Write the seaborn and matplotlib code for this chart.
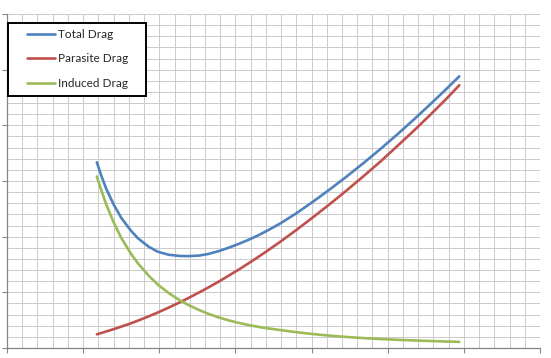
import numpy as np
import pandas as pd
import seaborn as sns
import matplotlib.pyplot as plt
from matplotlib.patches import Rectangle
from matplotlib.ticker import MultipleLocator, NullFormatter

# Airspeed positions (grid units) and drag values
speed = [5.9, 6.2, 6.5, 7.0, 7.5, 8.1, 8.6, 9.3, 9.9, 10.6, 11.3, 11.9, 12.6,
         13.2, 13.9, 14.5, 15.2, 15.9, 16.5, 17.2, 17.9, 19.0, 20.1, 21.2,
         22.3, 23.4, 24.5, 25.6, 26.7, 27.8, 28.9, 29.7]
total_drag = [16.68, 15.45, 14.35, 12.9, 11.7, 10.6, 9.85, 9.1, 8.65, 8.38,
              8.27, 8.25, 8.3, 8.44, 8.7, 8.98, 9.34, 9.74, 10.12, 10.62,
              11.15, 12.1, 13.15, 14.25, 15.4, 16.6, 17.85, 19.15, 20.5,
              21.9, 23.33, 24.4]
parasite_drag = [1.23, 1.35, 1.48, 1.69, 1.92, 2.2, 2.46, 2.84, 3.19, 3.62,
                 4.07, 4.48, 4.98, 5.42, 5.96, 6.45, 7.03, 7.64, 8.18, 8.83,
                 9.5, 10.6, 11.75, 12.93, 14.15, 15.42, 16.72, 18.1, 19.5,
                 20.95, 22.45, 23.6]
induced_drag = [15.4, 14.15, 12.95, 11.3, 9.9, 8.55, 7.6, 6.5, 5.7, 4.95,
                4.33, 3.87, 3.42, 3.08, 2.75, 2.5, 2.26, 2.05, 1.9, 1.75,
                1.62, 1.42, 1.25, 1.11, 0.99, 0.89, 0.81, 0.74, 0.68, 0.63,
                0.58, 0.55]
series_names = ["Total Drag", "Parasite Drag", "Induced Drag"]
colors = ["#4F81BD", "#C0504D", "#9BBB59"]

df = pd.DataFrame({
    "speed": speed * 3,
    "drag": total_drag + parasite_drag + induced_drag,
    "series": np.repeat(series_names, len(speed)),
})

sns.set_style("white")
plt.rcParams["font.family"] = ["Lato", "DejaVu Sans"]

fig = plt.figure(figsize=(5.51, 3.58), dpi=100)
ax = fig.add_axes([7 / 551, 1 - 348 / 358, 533 / 551, 334 / 358])

sns.lineplot(data=df, x="speed", y="drag", hue="series", hue_order=series_names,
             palette=colors, linewidth=1.9, ax=ax, legend=True, sort=False)

ax.set_xlim(0, 35)
ax.set_ylim(0, 30)
ax.xaxis.set_major_locator(MultipleLocator(5))
ax.xaxis.set_minor_locator(MultipleLocator(1))
ax.yaxis.set_major_locator(MultipleLocator(5))
ax.yaxis.set_minor_locator(MultipleLocator(1))
ax.xaxis.set_major_formatter(NullFormatter())
ax.yaxis.set_major_formatter(NullFormatter())
ax.grid(True, which="both", color="#cccccc", linewidth=0.75)
ax.set_axisbelow(True)
ax.tick_params(which="major", direction="out", length=3.5, width=0.8,
               color="#868686", left=True, bottom=True)
ax.tick_params(which="minor", length=0)
ax.set_xlabel("")
ax.set_ylabel("")
for side in ["top", "right"]:
    ax.spines[side].set_visible(False)
for side in ["left", "bottom"]:
    ax.spines[side].set_color("#868686")
    ax.spines[side].set_linewidth(0.9)

# legend inside a plain black box
box = Rectangle((8 / 551, 1 - 96 / 358), 138 / 551, 73 / 358,
                transform=fig.transFigure, facecolor="white",
                edgecolor="black", linewidth=1.4, zorder=4, clip_on=False)
ax.add_patch(box)
handles, labels = ax.get_legend_handles_labels()
leg = ax.legend(handles, labels, loc="upper left", frameon=False,
                bbox_to_anchor=(27 / 551, 1 - 29 / 358),
                bbox_transform=fig.transFigure, borderpad=0, borderaxespad=0,
                handlelength=2.4, handletextpad=0.2, labelspacing=1.13,
                prop={"size": 8.5})
leg.set_zorder(5)

fig.savefig("out.png", dpi=100)
